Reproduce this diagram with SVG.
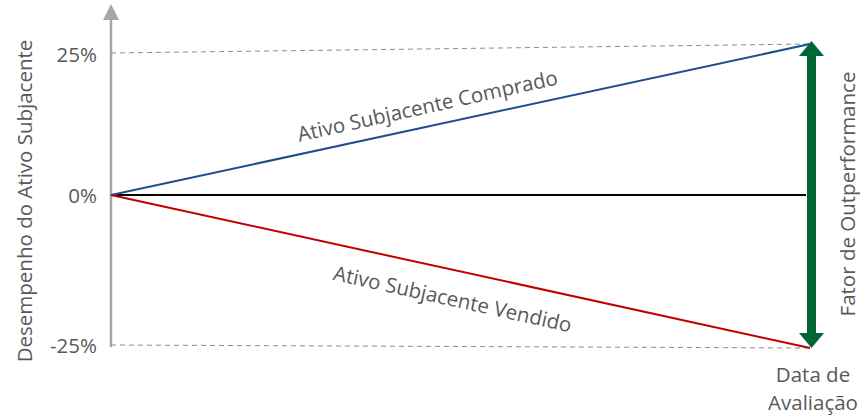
<svg xmlns="http://www.w3.org/2000/svg" width="860" height="417" viewBox="0 0 860 417">
<style>
.t{font-family:"Open Sans","Liberation Sans",sans-serif;fill:#595959;font-size:20.5px;}
.dash{stroke:#8c8c8c;stroke-width:1;stroke-dasharray:5,4;fill:none;}
</style>
<rect width="860" height="417" fill="#fff"/>
<g id="axes">
<line x1="111" y1="18" x2="111" y2="347" stroke="#a6a6a6" stroke-width="2.5"/>
<polygon points="111,4 103,20 119,20" fill="#a6a6a6"/>
</g>
<g id="connectors">
<line class="dash" x1="111" y1="53" x2="810" y2="44"/>
<line class="dash" x1="111" y1="345" x2="810" y2="348"/>
<line x1="111" y1="195" x2="806" y2="195" stroke="#000" stroke-width="2"/>
<line x1="111" y1="195" x2="810" y2="44" stroke="#1f4e8c" stroke-width="2"/>
<line x1="111" y1="195" x2="810" y2="348" stroke="#c00000" stroke-width="2"/>
<g id="outperf-arrow" fill="#006633">
<rect x="807" y="54" width="9" height="282"/>
<polygon points="811.5,41 799,56 824,56"/>
<polygon points="811.5,348 799,333 824,333"/>
</g>
</g>
<g id="labels">
<text class="t" x="97" y="62" text-anchor="end">25%</text>
<text class="t" x="97" y="203" text-anchor="end">0%</text>
<text class="t" x="97" y="353" text-anchor="end">-25%</text>
<text class="t" text-anchor="middle" transform="translate(32,201) rotate(-90)">Desempenho do Ativo Subjacente</text>
<text class="t" text-anchor="middle" transform="translate(855,194) rotate(-90)">Fator de Outperformance</text>
<text class="t" text-anchor="middle" transform="translate(429,113) rotate(-12.5)">Ativo Subjacente Comprado</text>
<text class="t" text-anchor="middle" transform="translate(451,306) rotate(12.5)">Ativo Subjacente Vendido</text>
<text class="t" x="813" y="382" text-anchor="middle">Data de</text>
<text class="t" x="813" y="409.5" text-anchor="middle">Avaliação</text>
</g>
</svg>
